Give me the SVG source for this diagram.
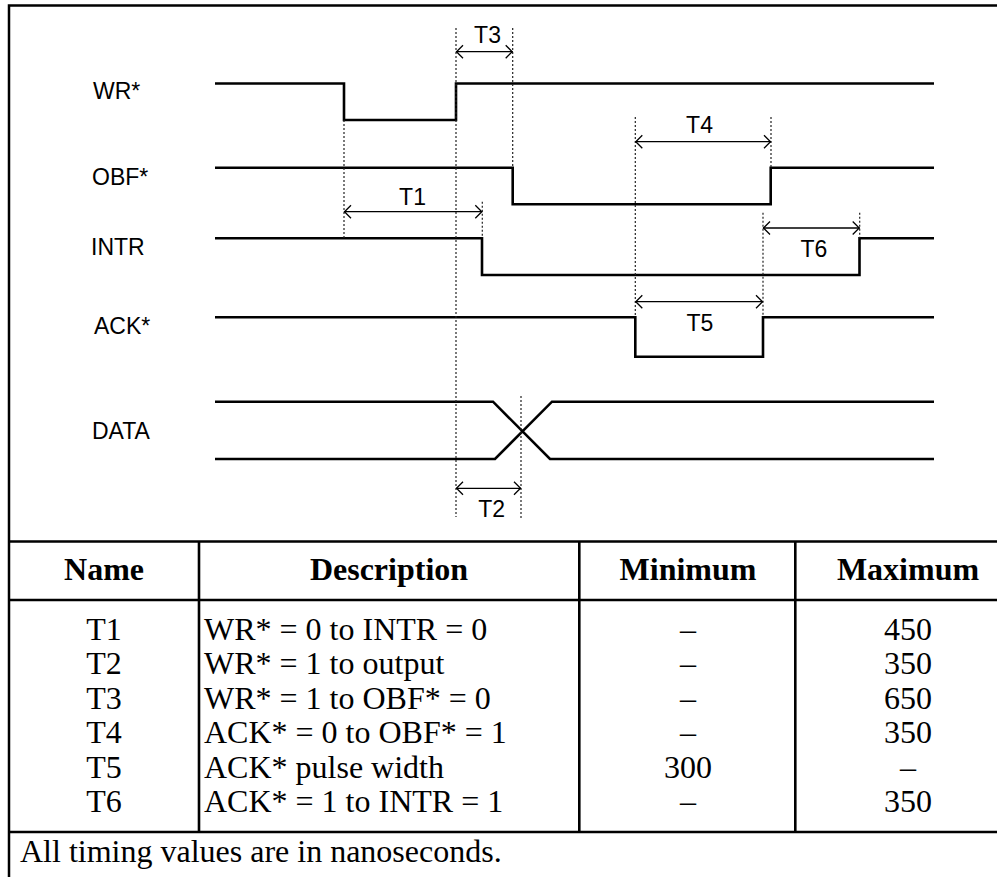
<svg xmlns="http://www.w3.org/2000/svg" width="997" height="877" viewBox="0 0 997 877">
<style>
.bg{fill:#fff}
.frame{fill:none;stroke:#000;stroke-width:2.5}
.sig{fill:none;stroke:#000;stroke-width:2.6;stroke-linejoin:miter}
.dot{fill:none;stroke:#222;stroke-width:1.2;stroke-dasharray:2,2}
.dim{fill:none;stroke:#000;stroke-width:1.3;marker-start:url(#ah);marker-end:url(#ah)}
.lab{font-family:"Liberation Sans",Arial,sans-serif;font-size:23px;fill:#000}
.tl{font-family:"Liberation Sans",Arial,sans-serif;font-size:23px;fill:#000;text-anchor:middle}
.th{font-family:"Liberation Serif","Times New Roman",serif;font-size:32px;font-weight:bold;fill:#000;text-anchor:middle}
.td{font-family:"Liberation Serif","Times New Roman",serif;font-size:32px;fill:#000}
.c{text-anchor:middle}
.grid{fill:none;stroke:#000;stroke-width:2.6}
</style>
<defs>
<marker id="ah" markerWidth="1" markerHeight="1" refX="0" refY="0" orient="auto-start-reverse" markerUnits="userSpaceOnUse" overflow="visible" style="overflow:visible">
<path d="M-7,-6.5 L-0.5,0 L-7,6.5" fill="none" stroke="#000" stroke-width="1.3"/>
</marker>
</defs>
<rect class="bg" x="0" y="0" width="997" height="877"/>
<rect class="frame" x="9" y="5.5" width="1020" height="880"/>

<g id="labels">
<text class="lab" x="93" y="99">WR*</text>
<text class="lab" x="92" y="185">OBF*</text>
<text class="lab" x="91" y="255">INTR</text>
<text class="lab" x="94" y="334">ACK*</text>
<text class="lab" x="92" y="439">DATA</text>
</g>

<g id="signals">
<path id="wr" class="sig" d="M215,83.5 H344 V120 H456 V83.5 H934"/>
<path id="obf" class="sig" d="M215,167.7 H512.7 V204.3 H770.7 V167.7 H934"/>
<path id="intr" class="sig" d="M215,238.3 H482 V275 H859.5 V238.3 H934"/>
<path id="ack" class="sig" d="M215,317.3 H635.3 V356.7 H763 V317.3 H934"/>
<path id="data" class="sig" d="M215,401.7 H493 L550,459 H934 M215,459 H495 L552,401.7 H934"/>
</g>

<g id="connectors">
<path class="dot" d="M344,120 V238"/>
<path class="dot" d="M456,28 V517"/>
<path class="dot" d="M512.7,28 V168"/>
<path class="dot" d="M482.3,201.7 V238"/>
<path class="dot" d="M635.3,117 V317"/>
<path class="dot" d="M771,117 V168"/>
<path class="dot" d="M763,212.7 V317"/>
<path class="dot" d="M859.7,212.7 V238"/>
<path class="dot" d="M521,396 V518"/>
<line class="dim" x1="456" y1="51.7" x2="512.7" y2="51.7"/>
<line class="dim" x1="344" y1="211.7" x2="482.3" y2="211.7"/>
<line class="dim" x1="635.3" y1="141.7" x2="771" y2="141.7"/>
<line class="dim" x1="763" y1="228" x2="859.7" y2="228"/>
<line class="dim" x1="635.3" y1="301.7" x2="763" y2="301.7"/>
<line class="dim" x1="456" y1="488.3" x2="521" y2="488.3"/>
</g>

<g id="timing-labels">
<text class="tl" x="487.5" y="43.3">T3</text>
<text class="tl" x="412.5" y="205">T1</text>
<text class="tl" x="699.5" y="133.3">T4</text>
<text class="tl" x="813.8" y="256.7">T6</text>
<text class="tl" x="699.8" y="330.7">T5</text>
<text class="tl" x="491.7" y="517">T2</text>
</g>

<g id="table">
<path class="grid" d="M9,541.5 H997 M9,600 H997 M9,832 H997 M199,541.5 V832 M579.3,541.5 V832 M795.3,541.5 V832"/>
<text class="th" x="104" y="580">Name</text>
<text class="th" x="389" y="580">Description</text>
<text class="th" x="688" y="580">Minimum</text>
<text class="th" x="908" y="580">Maximum</text>
<g class="td">
<text class="c" x="104" y="639.5">T1</text>
<text class="c" x="104" y="674">T2</text>
<text class="c" x="104" y="708.5">T3</text>
<text class="c" x="104" y="743">T4</text>
<text class="c" x="104" y="777.5">T5</text>
<text class="c" x="104" y="812">T6</text>
<text x="204" y="639.5">WR* = 0 to INTR = 0</text>
<text x="204" y="674">WR* = 1 to output</text>
<text x="204" y="708.5">WR* = 1 to OBF* = 0</text>
<text x="204" y="743">ACK* = 0 to OBF* = 1</text>
<text x="204" y="777.5">ACK* pulse width</text>
<text x="204" y="812">ACK* = 1 to INTR = 1</text>
<text class="c" x="688" y="639.5">–</text>
<text class="c" x="688" y="674">–</text>
<text class="c" x="688" y="708.5">–</text>
<text class="c" x="688" y="743">–</text>
<text class="c" x="688" y="777.5">300</text>
<text class="c" x="688" y="812">–</text>
<text class="c" x="908" y="639.5">450</text>
<text class="c" x="908" y="674">350</text>
<text class="c" x="908" y="708.5">650</text>
<text class="c" x="908" y="743">350</text>
<text class="c" x="908" y="777.5">–</text>
<text class="c" x="908" y="812">350</text>
<text x="20" y="862">All timing values are in nanoseconds.</text>
</g>
</g>
</svg>
